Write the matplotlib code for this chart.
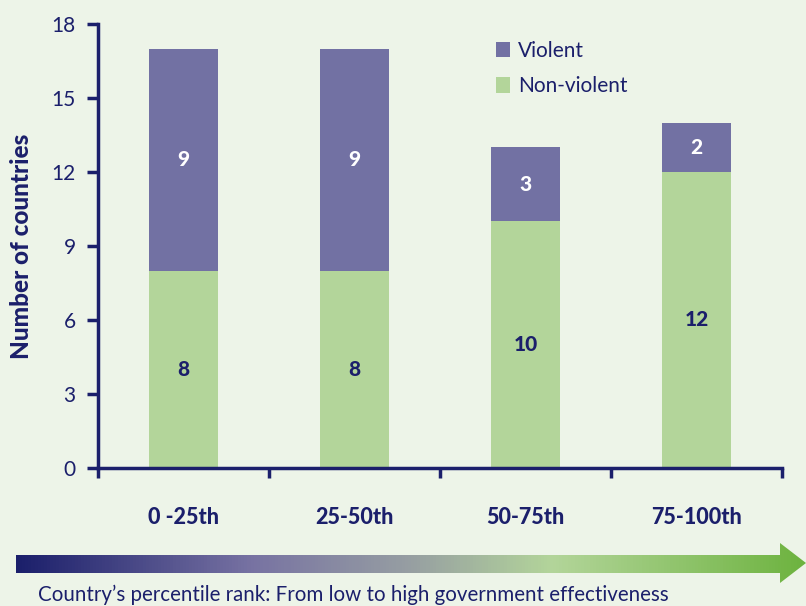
import numpy as np
import matplotlib
matplotlib.use('Agg')
import matplotlib.pyplot as plt
from matplotlib.colors import LinearSegmentedColormap
from matplotlib.patches import Polygon

# data
categories = ['0 -25th', '25-50th', '50-75th', '75-100th']
non_violent = [8, 8, 10, 12]
violent = [9, 9, 3, 2]

navy = '#1b1f6b'
violet = '#7271a3'
green = '#b3d59a'
bg = '#edf4e8'

plt.rcParams['font.family'] = ['Lato', 'DejaVu Sans']

fig = plt.figure(figsize=(8.06, 6.06), dpi=100, facecolor=bg)
ax = fig.add_axes([98 / 806, 1 - 468 / 606, 684 / 806, 444 / 606])
ax.set_facecolor(bg)

x = np.arange(len(categories))
b1 = ax.bar(x, non_violent, width=0.4, color=green, label='Non-violent')
b2 = ax.bar(x, violent, width=0.4, bottom=non_violent, color=violet, label='Violent')

for i in range(len(x)):
    ax.text(x[i], non_violent[i] / 2, str(non_violent[i]), ha='center', va='center',
            color=navy, fontsize=15, fontweight='black')
    ax.text(x[i], non_violent[i] + violent[i] / 2, str(violent[i]), ha='center', va='center',
            color='white', fontsize=15, fontweight='black')

ax.set_xlim(-0.5, 3.5)
ax.set_ylim(0, 18)
ax.set_yticks([0, 3, 6, 9, 12, 15, 18])
ax.set_xticks(x)
ax.set_xticklabels(categories, fontsize=15.5, fontweight='black', color=navy)
ax.set_xticks([-0.5, 0.5, 1.5, 2.5, 3.5], minor=True)
ax.tick_params(axis='x', which='major', length=0, pad=28)
ax.tick_params(axis='x', which='minor', length=7, width=2.5, color=navy, direction='out')
ax.tick_params(axis='y', length=8, width=2.5, color=navy, labelsize=15, labelcolor=navy, pad=8)
for s in ['top', 'right']:
    ax.spines[s].set_visible(False)
for s in ['left', 'bottom']:
    ax.spines[s].set_color(navy)
    ax.spines[s].set_linewidth(2.5)
ax.set_ylabel('Number of countries', fontsize=17.5, fontweight='black', color=navy, labelpad=13)

leg = ax.legend(handles=[b2, b1], loc='upper left', bbox_to_anchor=(0.555, 1.005), frameon=False,
                fontsize=15, handlelength=0.65, handleheight=0.75, handletextpad=0.4,
                labelspacing=0.75)
for t in leg.get_texts():
    t.set_color(navy)

# gradient arrow at the bottom
ax2 = fig.add_axes([0, 0, 1, 1])
ax2.set_xlim(0, 806)
ax2.set_ylim(606, 0)
ax2.axis('off')
cmap = LinearSegmentedColormap.from_list('arr', [(0, navy), (0.3, '#7873a3'), (0.5, '#979fa2'),
                                                 (0.68, '#b3d59a'), (1, '#6db33f')])
grad = np.linspace(0, 1, 256).reshape(1, -1)
im = ax2.imshow(grad, cmap=cmap, extent=[16, 806, 584, 542], aspect='auto')
arrow = Polygon([[16, 555], [780, 555], [780, 543], [806, 563], [780, 583], [780, 573], [16, 573]],
                closed=True, transform=ax2.transData, facecolor='none', edgecolor='none')
ax2.add_patch(arrow)
im.set_clip_path(arrow)
ax2.text(38, 595, 'Country\u2019s percentile rank: From low to high government effectiveness',
         fontsize=14.8, color=navy, va='center', ha='left')

fig.savefig('out.png', dpi=100, facecolor=bg)
